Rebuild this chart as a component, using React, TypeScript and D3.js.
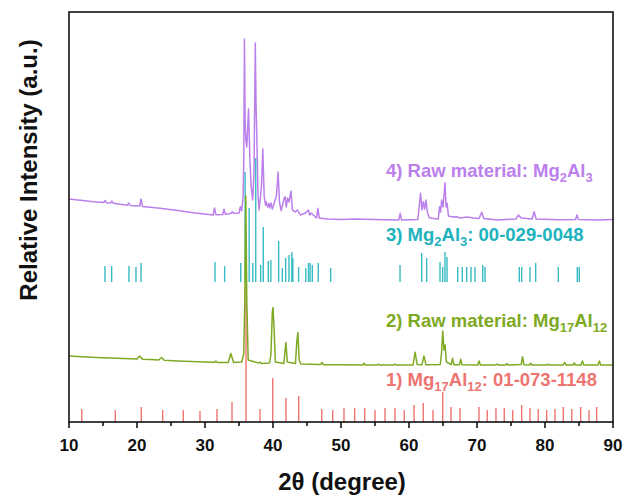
import React from "react";
import * as d3 from "d3";

// ---- axis ticks ----
const xMajorTicks = [10, 20, 30, 40, 50, 60, 70, 80, 90];
const xMinorTicks = [15, 25, 35, 45, 55, 65, 75, 85];

// ---- 1) Mg17Al12 reference card 01-073-1148: [2theta, intensity] ----
const refMg17Al12: [number, number][] = [
  [11.87, 13], [16.81, 12], [20.63, 15], [23.78, 12], [26.81, 12], [29.26, 11],
  [31.76, 13], [33.97, 20], [36.03, 147], [38.09, 13], [39.96, 44], [41.91, 24],
  [43.78, 26], [47.16, 13], [48.78, 12], [50.44, 14], [52.01, 14], [53.49, 14],
  [55.0, 12], [56.47, 14], [57.94, 14], [59.31, 12], [60.74, 17], [62.1, 19],
  [63.53, 12], [64.96, 30], [66.18, 15], [67.5, 14], [70.29, 15], [71.51, 12],
  [72.79, 14], [74.01, 14], [75.25, 12], [76.57, 17], [77.79, 14], [79.01, 13],
  [80.25, 12], [81.47, 13], [82.69, 15], [83.93, 13], [85.25, 15], [86.47, 12],
  [87.6, 15],
];
const refMg17Al12Offset = 0;

// ---- 3) Mg2Al3 reference card 00-029-0048 ----
const refMg2Al3: [number, number][] = [
  [15.29, 16], [16.27, 16], [18.82, 16], [19.85, 15], [20.59, 19], [31.47, 20],
  [32.89, 16], [35.25, 19], [35.9, 110], [36.5, 74], [37.03, 19], [37.46, 124],
  [38.19, 17], [38.57, 55], [39.31, 21], [39.68, 22], [40.83, 41], [41.37, 14],
  [41.86, 24], [42.35, 27], [42.77, 30], [42.92, 24], [43.77, 15], [44.82, 14],
  [45.22, 19], [45.45, 19], [45.78, 17], [46.66, 19], [48.48, 14], [58.68, 17],
  [61.87, 29], [62.6, 24], [64.56, 20], [64.95, 15], [65.29, 30], [65.59, 25],
  [67.16, 15], [67.84, 15], [68.48, 15], [69.12, 15], [69.7, 15], [70.84, 17],
  [71.18, 15], [76.22, 15], [76.57, 15], [77.79, 15], [78.63, 19], [81.96, 15],
  [84.75, 15], [85.04, 15],
];
const refMg2Al3Offset = 140;

// ---- 2) Raw material Mg17Al12 pattern ----
const rawMg17Al12: [number, number][] = [
  [10.0, 66], [12, 65.3], [14, 64.5], [16, 64], [18, 63.5], [20.0, 63], [20.4, 66],
  [20.8, 62.8], [22, 62.4], [23.2, 62], [23.6, 64.5], [24.0, 61.7], [26, 61],
  [28, 60.5], [30, 60], [31.4, 59.8], [31.6, 61], [31.8, 59.6], [33.4, 59.5],
  [33.8, 68.5], [34.2, 59.5], [35.4, 60], [35.7, 68], [35.85, 120], [36.0, 226],
  [36.15, 120], [36.35, 62], [37.9, 59], [38.1, 60], [38.3, 58.5], [39.5, 59],
  [39.7, 68], [39.9, 110], [40.0, 114.5], [40.15, 95], [40.35, 60], [41.6, 58.5],
  [41.75, 70], [41.9, 79.5], [42.1, 60], [43.3, 58.5], [43.5, 80], [43.65, 89.5],
  [43.85, 62], [44.1, 58], [47.0, 57.5], [47.2, 59.7], [47.4, 57.3], [50, 57.2],
  [53.2, 57], [53.4, 58.7], [53.6, 57], [55.3, 57], [55.5, 58], [55.7, 57],
  [57.7, 57], [57.9, 58], [58.1, 57], [60.6, 57], [60.9, 69.7], [61.2, 57.5],
  [61.9, 57.2], [62.2, 66], [62.5, 57.2], [64.6, 57.5], [64.8, 70], [64.96, 91],
  [65.15, 72], [65.3, 77], [65.5, 60], [66.2, 57.3], [66.4, 63.7], [66.6, 57.3],
  [67.4, 57.2], [67.6, 62.7], [67.8, 57.2], [70.1, 57], [70.3, 61], [70.5, 57],
  [72.7, 57], [72.9, 58], [73.1, 57], [74.2, 57], [74.4, 58.5], [74.6, 57],
  [76.5, 57.5], [76.7, 65.3], [76.9, 57.3], [77.7, 57], [77.9, 58.7], [78.1, 57],
  [80.3, 57], [80.5, 58], [80.7, 57], [82.7, 57], [82.9, 59.7], [83.1, 57],
  [84.1, 57], [84.3, 59], [84.5, 57], [85.3, 57], [85.5, 61], [85.7, 57],
  [87.8, 57], [88.0, 61], [88.2, 57], [90, 57],
];

// ---- 4) Raw material Mg2Al3 pattern ----
const rawMg2Al3: [number, number][] = [
  [10.0, 223], [12, 221.5], [13.6, 220.3], [15.1, 219.5], [15.3, 221.5], [15.5, 219.3],
  [16.1, 219], [16.3, 221], [16.5, 218.8], [18.6, 216.8], [18.8, 219], [19.0, 216.5],
  [20.4, 216], [20.6, 223], [20.8, 215.6], [23.4, 213.7], [26, 211.5], [28.3, 209.3],
  [31.2, 207], [31.4, 214], [31.6, 207.3], [32.6, 207.5], [32.8, 212.7], [33.0, 207.8],
  [33.8, 208.5], [34.0, 210.3], [34.2, 208.7], [35.0, 209], [35.2, 215.3], [35.4, 211],
  [35.6, 225], [35.7, 260], [35.8, 383], [35.9, 300], [36.0, 282], [36.15, 275],
  [36.4, 313], [36.6, 262], [36.8, 235], [37.0, 222], [37.2, 248], [37.4, 379],
  [37.5, 320], [37.6, 290], [37.8, 226], [37.95, 212], [38.3, 235], [38.5, 273],
  [38.7, 226], [38.9, 217], [39.0, 220.3], [39.2, 215], [39.4, 218.5], [39.5, 214],
  [39.7, 219], [39.9, 213], [40.5, 226], [40.75, 250], [40.95, 220], [41.2, 211.3],
  [41.6, 223], [41.8, 225.3], [41.95, 215], [42.15, 224], [42.35, 220], [42.65, 231],
  [42.85, 212], [43.3, 210], [43.6, 212], [44.0, 207], [44.8, 209], [45.2, 212],
  [45.4, 207], [45.6, 209], [46.4, 204], [46.6, 213.7], [46.8, 204], [48, 203],
  [50, 202.5], [52, 203], [55, 202.5], [58.5, 202], [58.7, 208.7], [58.9, 202],
  [61.3, 202.5], [61.7, 228.7], [61.9, 212], [62.1, 220.3], [62.3, 213], [62.5, 222],
  [62.7, 210], [63.0, 204], [64.3, 203], [64.5, 215.3], [64.65, 210], [64.8, 222],
  [65.0, 215], [65.3, 239.3], [65.45, 215], [65.6, 218.7], [65.8, 206], [66.5, 205],
  [67.0, 205.3], [67.5, 204], [68.5, 205], [69.5, 204], [70.3, 203.5], [70.7, 209.7],
  [71.0, 203.5], [73, 202], [75.7, 203], [76.1, 207], [76.5, 204], [78.1, 203],
  [78.4, 210.3], [78.7, 203], [82, 202.3], [84.5, 202.5], [84.7, 207], [84.9, 202.5],
  [88, 202], [90, 202.5],
];

// ---- colours ----
const cRed = "#EE7470";
const cTeal = "#20B2BD";
const cGreen = "#7EA923";
const cPurple = "#BB80EC";

const FONT = "'Liberation Sans', Arial, Helvetica, sans-serif";

const W = 624;
const H = 498;
const plot = { left: 69, right: 613, top: 12, bottom: 422 };

function Formula({ parts }: { parts: [string, boolean][] }) {
  // parts: [text, isSubscript]
  const out: React.ReactNode[] = [];
  let shifted = false;
  parts.forEach(([t, sub], i) => {
    let dy = 0;
    if (sub && !shifted) { dy = 5; shifted = true; }
    else if (!sub && shifted) { dy = -5; shifted = false; }
    out.push(
      <tspan key={i} dy={dy} fontSize={sub ? 13 : undefined}>{t}</tspan>
    );
  });
  return <>{out}</>;
}

export default function App() {
  const x = d3.scaleLinear().domain([10, 90]).range([plot.left, plot.right]);
  const y = d3.scaleLinear().domain([0, 410]).range([plot.bottom, plot.top]);
  const line = d3
    .line<[number, number]>()
    .x((d) => x(d[0]))
    .y((d) => y(d[1]));

  const labelX = 386;

  return (
    <svg
      width={W}
      height={H}
      viewBox={`0 0 ${W} ${H}`}
      style={{ position: "absolute", left: 0, top: 0, display: "block", background: "#fff" }}
      fontFamily={FONT}
    >
      <defs>
        <clipPath id="plotClip">
          <rect x={plot.left} y={plot.top} width={plot.right - plot.left} height={plot.bottom - plot.top} />
        </clipPath>
      </defs>

      <g clipPath="url(#plotClip)">
        {/* 1) reference sticks Mg17Al12 */}
        {refMg17Al12.map(([t, h], i) => (
          <line key={"r" + i} x1={x(t)} x2={x(t)} y1={y(refMg17Al12Offset)} y2={y(refMg17Al12Offset + h)}
            stroke={cRed} strokeWidth={1.4} />
        ))}
        {/* 4) raw Mg2Al3 */}
        <path d={line(rawMg2Al3) || ""} fill="none" stroke={cPurple} strokeWidth={1.5} strokeLinejoin="round" />
        {/* 3) reference sticks Mg2Al3 */}
        {refMg2Al3.map(([t, h], i) => (
          <line key={"t" + i} x1={x(t)} x2={x(t)} y1={y(refMg2Al3Offset)} y2={y(refMg2Al3Offset + h)}
            stroke={cTeal} strokeWidth={1.4} strokeOpacity={0.9} />
        ))}
        {/* 2) raw Mg17Al12 */}
        <path d={line(rawMg17Al12) || ""} fill="none" stroke={cGreen} strokeWidth={1.5} strokeLinejoin="round" />
      </g>

      {/* labels */}
      <g fontWeight="bold" fontSize={18.5}>
        <text x={labelX} y={177} fill={cPurple}>
          <Formula parts={[["4) Raw material: Mg", false], ["2", true], ["Al", false], ["3", true]]} />
        </text>
        <text x={labelX} y={241} fill={cTeal}>
          <Formula parts={[["3) Mg", false], ["2", true], ["Al", false], ["3", true], [": 00-029-0048", false]]} />
        </text>
        <text x={labelX} y={327} fill={cGreen}>
          <Formula parts={[["2) Raw material: Mg", false], ["17", true], ["Al", false], ["12", true]]} />
        </text>
        <text x={labelX} y={386} fill={cRed}>
          <Formula parts={[["1) Mg", false], ["17", true], ["Al", false], ["12", true], [": 01-073-1148", false]]} />
        </text>
      </g>

      {/* frame */}
      <rect x={plot.left} y={plot.top} width={plot.right - plot.left} height={plot.bottom - plot.top}
        fill="none" stroke="#111" strokeWidth={1.6} />

      {/* x ticks */}
      {xMajorTicks.map((t) => (
        <g key={"M" + t}>
          <line x1={x(t)} x2={x(t)} y1={plot.bottom} y2={plot.bottom + 6} stroke="#111" strokeWidth={1.6} />
          <text x={x(t)} y={451} textAnchor="middle" fontSize={17} fontWeight="bold" fill="#111">{t}</text>
        </g>
      ))}
      {xMinorTicks.map((t) => (
        <line key={"m" + t} x1={x(t)} x2={x(t)} y1={plot.bottom} y2={plot.bottom + 4} stroke="#111" strokeWidth={1.6} />
      ))}

      {/* axis titles */}
      <text x={342} y={490} textAnchor="middle" fontSize={24} fontWeight="bold" fill="#111">
        2θ (degree)
      </text>
      <text transform={`translate(37,170) rotate(-90)`} textAnchor="middle" fontSize={24} fontWeight="bold" fill="#111">
        Relative Intensity (a.u.)
      </text>
    </svg>
  );
}
